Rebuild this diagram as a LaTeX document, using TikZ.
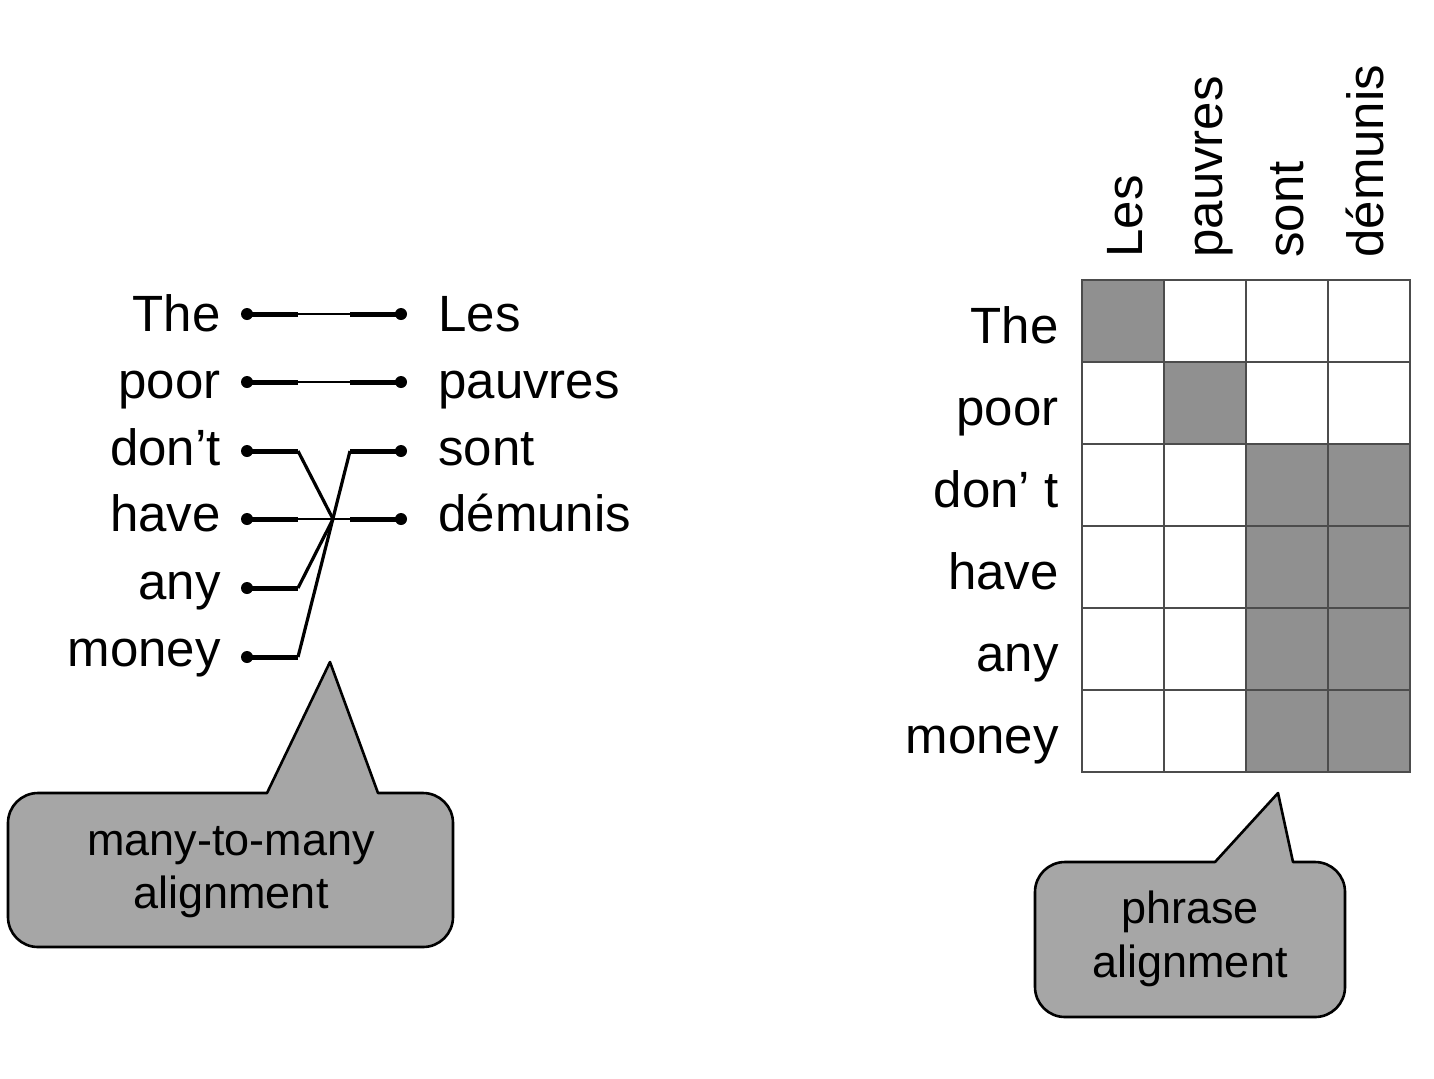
\documentclass[tikz,border=0pt]{standalone}
\usepackage{fontspec}
\setmainfont{Liberation Sans}
\definecolor{cellgray}{HTML}{909090}
\definecolor{callgray}{HTML}{A6A6A6}
\begin{document}
\begin{tikzpicture}[x=0.5pt,y=-0.5pt,
  word/.style={inner sep=0pt, font=\fontsize{25.5pt}{30pt}\selectfont},
  calltext/.style={inner sep=0pt, font=\fontsize{22.5pt}{26pt}\selectfont},
  wdot/.style={circle, fill=black, inner sep=0pt, minimum size=6pt},
  stub/.style={line width=2.5pt},
  thinlink/.style={line width=1pt},
  diaglink/.style={line width=1.6pt},
  callout/.style={draw=black, fill=callgray, line width=1.3pt, line join=round},
  gridline/.style={draw=black!70, line width=1.4pt, line cap=rect},
  cellfill/.style={fill=cellgray}]
\useasboundingbox (0,0) rectangle (1434,1078);

% ---------- left: word alignment ----------
\foreach \w/\y [count=\i] in {The/331, poor/398, don’t/465, have/531, any/599, money/666}
  \node[word, anchor=base east] (en\i) at (221,\y) {\w};
\foreach \w/\y [count=\i] in {Les/331, pauvres/398, sont/465, démunis/531}
  \node[word, anchor=base west] (fr\i) at (438,\y) {\w};

\foreach \y [count=\i] in {314,382,451,519,588,657} {
  \node[wdot] (ld\i) at (247,\y) {};
  \coordinate (le\i) at (298,\y);
  \draw[stub] (ld\i.center) -- (le\i);
}
\foreach \y [count=\i] in {314,382,451,519} {
  \node[wdot] (rd\i) at (401,\y) {};
  \coordinate (rs\i) at (350,\y);
  \draw[stub] (rs\i) -- (rd\i.center);
}
\coordinate (hub) at (333,519);
\draw[thinlink] (le1) -- (rs1);
\draw[thinlink] (le2) -- (rs2);
\draw[thinlink] (le4) -- (rs4);
\draw[diaglink] (le3) -- (hub);
\draw[diaglink] (le5) -- (hub);
\draw[diaglink] (le6) -- (rs3);

% left callout
\draw[callout] (267,793) -- (330,662) -- (378,793) -- (423,793)
  .. controls (439.6,793) and (453,806.4) .. (453,823) -- (453,917)
  .. controls (453,933.6) and (439.6,947) .. (423,947) -- (38,947)
  .. controls (21.4,947) and (8,933.6) .. (8,917) -- (8,823)
  .. controls (8,806.4) and (21.4,793) .. (38,793) -- cycle;
\node[calltext, anchor=base] (m2ma) at (231,855) {many-to-many};
\node[calltext, anchor=base] (m2mb) at (231,908) {alignment};

% ---------- right: phrase alignment matrix ----------
\fill[cellfill] (1082,280) rectangle (1164,362);
\fill[cellfill] (1164,362) rectangle (1246,444);
\fill[cellfill] (1246,444) rectangle (1410,772);
\foreach \i in {0,...,4}
  \draw[gridline] ({1082+82*\i},280) -- ({1082+82*\i},772);
\foreach \j in {0,...,6}
  \draw[gridline] (1082,{280+82*\j}) -- (1410,{280+82*\j});

\foreach \w [count=\i] in {The,poor,don’ t,have,any,money}
  \node[word, anchor=base east] (row\i) at (1059,{343+82*(\i-1)}) {\w};
\foreach \w/\x [count=\i] in {Les/1142, pauvres/1222, sont/1303, démunis/1383}
  \node[word, rotate=90, anchor=base west] (col\i) at (\x,258) {\w};

% right callout
\draw[callout] (1215,862) -- (1278,793) -- (1293,862) -- (1315,862)
  .. controls (1331.6,862) and (1345,875.4) .. (1345,892) -- (1345,987)
  .. controls (1345,1003.6) and (1331.6,1017) .. (1315,1017) -- (1065,1017)
  .. controls (1048.4,1017) and (1035,1003.6) .. (1035,987) -- (1035,892)
  .. controls (1035,875.4) and (1048.4,862) .. (1065,862) -- cycle;
\node[calltext, anchor=base] (pha) at (1190,923) {phrase};
\node[calltext, anchor=base] (phb) at (1190,977) {alignment};
\end{tikzpicture}
\end{document}
